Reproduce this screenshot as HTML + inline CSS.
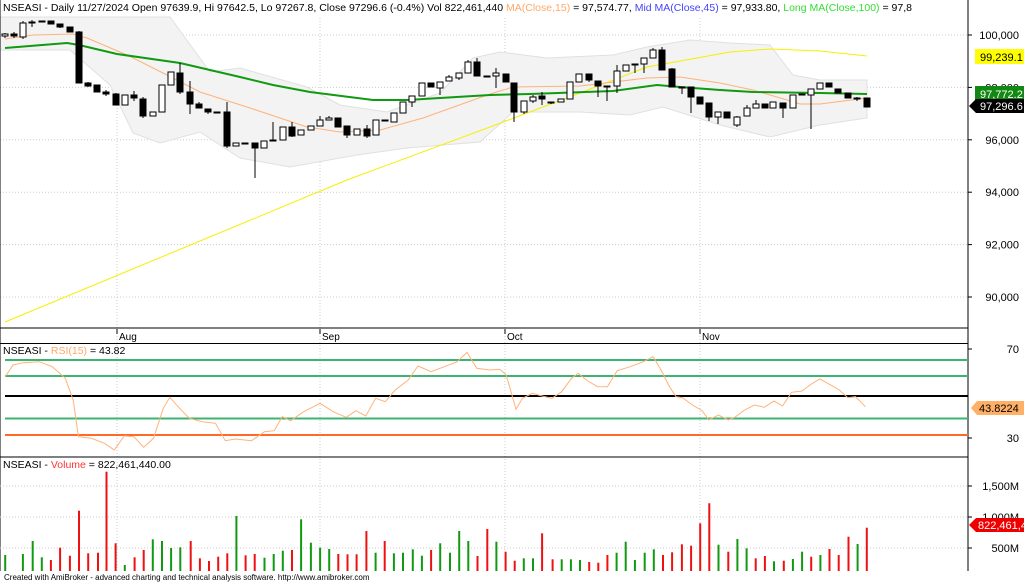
<!DOCTYPE html>
<html><head><meta charset="utf-8"><style>
body{margin:0;background:#fff;width:1024px;height:583px;overflow:hidden;font-family:"Liberation Sans",sans-serif}
svg text{font-family:"Liberation Sans",sans-serif}
</style></head><body>
<svg id="s" width="1024" height="583" xmlns="http://www.w3.org/2000/svg"></svg>
<script>
const S=document.getElementById('s');let h='';
const add=t=>h+=t;
// grid
const py=p=>35+(100000-p)*0.0262;
[100000,98000,96000,94000,92000,90000].forEach(p=>{const y=py(p);add(`<line x1="0" x2="968" y1="${y}" y2="${y}" stroke="#ccc" stroke-dasharray="1,2"/>`);add(`<line x1="968" x2="972" y1="${y}" y2="${y}" stroke="#000"/>`);add(`<text x="1019" y="${y+4}" font-size="11" text-anchor="end">${p.toLocaleString('en-US')}</text>`)});
[117,320,505,700].forEach(x=>{add(`<line x1="${x}" x2="${x}" y1="18" y2="571" stroke="#ccc" stroke-dasharray="1,2"/>`)});
// bollinger
const up=[[0,17],[170,17],[210,72],[240,68],[307,87],[340,105],[387,112],[440,93],[473,58],[500,52],[547,58],[613,55],[647,47],[690,40],[730,43],[770,45],[793,75],[820,80],[867,80]];
const lo=[[0,50],[70,50],[110,85],[133,133],[160,143],[200,132],[240,158],[290,167],[357,155],[407,148],[480,142],[513,112],[580,112],[630,115],[663,107],[720,125],[770,137],[820,125],[867,118]];
add(`<polygon fill="#f3f3f3" stroke="#e0e0e0" points="${up.map(p=>p.join(',')).join(' ')} ${lo.slice().reverse().map(p=>p.join(',')).join(' ')}"/>`);
const pl=(pts,c,w)=>add(`<polyline fill="none" stroke="${c}" stroke-width="${w}" points="${pts.map(p=>p.join(',')).join(' ')}"/>`);
pl([[5,322],[347,180],[490,127],[580,93],[647,67],[730,52],[770,49],[820,51],[867,56]],'#f5f000',1);
pl([[5,39],[33,35],[73,34],[87,38],[127,55],[167,75],[200,92],[250,108],[307,127],[340,132],[380,130],[423,118],[490,94],[513,87],[580,86],[647,78],[680,77],[720,83],[753,90],[787,100],[800,104],[820,104],[867,98]],'#ffb27a',1);
pl([[5,48],[67,43],[79,45],[117,54],[180,63],[240,77],[273,85],[310,92],[373,100],[407,100],[440,98],[490,95],[530,94],[613,91],[657,85],[680,87],[720,90],[753,92],[820,93],[867,94]],'#119911',2);
// candles: [x, top, bottom, wickTop, wickBot, black]
const C=[[5,34,36,33,38,0],[14,34,36,32,38,1],[23,23,37,21,39,0],[32,22,22,20,27,1],[42,21,21,21,21,1],[51,21,24,21,24,1],[60,24,27,24,28,1],[70,27,32,27,32,1],[79,32,83,31,83,1],[88,83,86,82,87,1],[97,85,92,85,92,1],[106,92,94,90,96,1],[116,94,105,93,105,1],[125,95,105,95,105,0],[134,95,98,91,101,1],[143,99,116,97,118,1],[153,112,116,112,116,0],[162,85,112,85,112,0],[171,72,85,72,85,0],[180,73,92,63,94,1],[190,92,104,81,114,1],[199,104,108,102,108,1],[208,109,112,109,114,1],[217,112,112,112,112,1],[227,112,146,102,148,1],[236,143,146,143,146,0],[245,143,144,143,144,1],
[255,143,148,143,178,1],[264,141,148,141,148,0],[273,140,140,122,140,1],[283,127,140,127,140,0],[292,127,136,122,137,1],[301,130,135,130,135,0],[311,126,130,126,130,0],[320,120,126,116,126,0],[329,118,120,116,120,0],[338,118,127,118,127,1],[347,126,135,126,138,1],[357,129,135,129,135,0],[367,129,136,125,138,1],[376,120,135,120,135,0],[385,120,120,120,120,1],[394,113,122,113,122,0],[403,102,113,102,113,0],[412,96,102,96,107,0],[422,83,96,83,96,0],[431,83,87,83,87,1],[440,82,88,82,95,0],[449,77,81,75,81,0],[459,73,78,73,80,0],[468,62,73,60,73,0],[477,62,76,58,76,1],[487,76,76,76,76,1],
[496,73,76,68,88,0],[506,74,82,74,82,1],[514,83,112,83,122,1],[524,101,112,101,114,0],[533,97,101,95,103,0],[542,96,99,92,105,1],[551,102,102,102,104,1],[561,99,102,99,102,0],[570,82,99,82,99,0],[579,74,82,74,82,0],[589,74,80,74,82,1],[598,81,86,81,97,1],[607,86,86,86,101,1],[617,71,86,65,93,0],[626,65,71,65,71,0],[635,64,64,64,73,1],[644,58,64,58,73,0],[653,50,58,48,58,0],[662,50,70,47,70,1],[672,69,87,68,87,1],[682,87,87,87,94,1],[691,87,97,87,113,1],[700,97,104,97,104,1],[709,103,117,103,121,1],[718,112,117,112,124,0],[727,112,118,112,118,1],
[737,117,125,116,127,0],[747,108,116,105,116,0],[756,104,108,100,108,0],[765,104,108,104,108,1],[773,102,108,102,108,0],[783,103,108,103,118,1],[793,95,108,95,108,0],[802,94,94,94,94,1],[811,89,95,89,129,0],[820,83,89,83,89,0],[829,83,87,83,87,1],[838,89,93,89,93,1],[848,93,98,93,98,1],[857,98,98,97,101,1],[867,98,107,98,107,1]];
C.forEach(c=>{const[x,t,b,wt,wb,k]=c;add(`<line x1="${x}" x2="${x}" y1="${wt}" y2="${wb}" stroke="#000"/>`);add(`<rect x="${x-3}" y="${t}" width="6" height="${Math.max(b-t,1)}" fill="${k?'#000':'#fff'}" stroke="#000" stroke-width="1"/>`)});
// title
add(`<rect x="0" y="0" width="967" height="15" fill="#fff"/>`);
add(`<text x="3" y="11" font-size="10.5">NSEASI - Daily 11/27/2024 Open 97639.9, Hi 97642.5, Lo 97267.8, Close 97296.6 (-0.4%) Vol 822,461,440 <tspan fill="#ffa866">MA(Close,15)</tspan> = 97,574.77, <tspan fill="#4444ff">Mid MA(Close,45)</tspan> = 97,933.80, <tspan fill="#33dd33">Long MA(Close,100)</tspan> = 97,8</text>`);
// right labels main
add(`<rect x="975" y="49" width="49" height="15" fill="#ffff00"/><text x="980" y="61" font-size="11">99,239.1</text>`);
add(`<rect x="975" y="86" width="49" height="15" fill="#118811"/><text x="980" y="98" font-size="11" fill="#fff">97,772.2</text>`);
add(`<polygon points="969,106 976,99 1024,99 1024,113 976,113" fill="#000"/><text x="980" y="110" font-size="11" fill="#fff">97,296.6</text>`);
// panel borders
add(`<line x1="968" x2="968" y1="0" y2="571" stroke="#000"/>`);
add(`<line x1="0" x2="0" y1="0" y2="571" stroke="#000"/>`);
add(`<line x1="0" x2="968" y1="328" y2="328" stroke="#000"/><line x1="0" x2="968" y1="343.5" y2="343.5" stroke="#000"/><line x1="0" x2="968" y1="457" y2="457" stroke="#000"/>`);
[[117,'Aug'],[320,'Sep'],[505,'Oct'],[700,'Nov']].forEach(([x,t])=>{add(`<line x1="${x}" x2="${x}" y1="329" y2="334" stroke="#000"/><text x="${x+2}" y="340" font-size="10">${t}</text>`)});
// RSI
add(`<line x1="5" x2="968" y1="360" y2="360" stroke="#3cb371" stroke-width="2"/><line x1="5" x2="968" y1="376" y2="376" stroke="#3cb371" stroke-width="2"/><line x1="5" x2="968" y1="396" y2="396" stroke="#000" stroke-width="2"/><line x1="5" x2="968" y1="418.5" y2="418.5" stroke="#3cb371" stroke-width="2"/><line x1="5" x2="968" y1="435" y2="435" stroke="#ff6a2a" stroke-width="2"/>`);
const R=[[8,170],[20,135],[35,128],[60,125],[80,140],[100,175],[112,240],[120,350],[140,355],[160,370],[175,390],[190,348],[205,350],[220,382],[235,355],[250,265],[260,232],[275,265],[290,295],[310,305],[330,310],[345,362],[360,357],[385,362],[405,335],[420,332],[432,290],[445,302],[465,275],[490,250],[510,275],[530,292],[545,272],[560,288],[575,235],[590,245],[605,210],[625,180],[640,138],[660,155],[680,140],[700,125],[715,97],[730,145],[750,150],[765,148],[775,165],[790,268],[800,235],[815,220],[830,228],[845,235],[860,215],[875,175],[885,160],[900,183],[915,200],[930,200],[945,152],[965,140],[985,125],[1000,110],[1012,150],[1025,200],[1035,230],[1045,233],[1060,255],[1075,272],[1085,300],[1100,285],[1115,300],[1125,292],[1140,270],[1155,255],[1170,262],[1185,243],[1198,258],[1212,217],[1228,213],[1240,195],[1255,177],[1270,193],[1285,210],[1298,233],[1310,230],[1325,260]].map(p=>[(p[0]/1.531).toFixed(1),(p[1]/3+320).toFixed(1)]);
pl(R,'#ffb27a',1);
add(`<text x="3" y="354" font-size="10.5">NSEASI - <tspan fill="#ffa866">RSI(15)</tspan> = 43.82</text>`);
add(`<line x1="968" x2="972" y1="349" y2="349" stroke="#000"/><text x="1019" y="353" font-size="11" text-anchor="end">70</text>`);
add(`<line x1="968" x2="972" y1="438" y2="438" stroke="#000"/><text x="1019" y="442" font-size="11" text-anchor="end">30</text>`);
add(`<polygon points="971,408 977,401 1024,401 1024,415 977,415" fill="#ffb066"/><text x="979" y="412" font-size="11">43.8224</text>`);
// volume
const V=[[8,'g',705],[35,'g',702],[50,'g',663],[64,'g',712],[78,'r',720],[92,'r',683],[107,'r',707],[121,'r',572],[135,'r',700],[150,'r',698],[163,'r',455],[177,'r',670],[191,'g',735],[206,'r',712],[220,'r',690],[234,'g',658],[248,'g',663],[262,'g',684],[276,'g',682],[292,'r',663],[306,'r',715],[320,'r',723],[334,'r',710],[348,'r',700],[362,'g',588],[376,'r',706],[390,'r',702],[405,'g',713],[419,'g',702],[433,'g',692],[447,'r',690],[461,'g',598],[476,'g',668],[490,'g',683],[504,'g',687],[518,'r',702],[532,'r',703],[546,'r',703],[561,'r',633],[575,'g',698],[589,'r',663],[603,'g',700],[617,'g',698],[632,'g',688],[646,'g',707],[660,'r',690],[674,'g',670],[689,'g',698],[703,'g',633],[717,'g',663],[731,'r',708],[746,'r',627],[760,'g',665],[774,'r',695],[788,'r',722],[802,'g',715],[816,'g',715],[830,'r',640],[846,'r',718],[860,'g',718],[874,'g',718],[888,'g',720],[902,'r',726],[916,'r',728],[930,'r',705],[944,'g',698],[958,'g',665],[972,'g',720],[987,'g',698],[1001,'g',688],[1015,'r',705],[1029,'r',697],[1044,'r',673],[1058,'r',677],[1072,'r',610],[1086,'r',550],[1100,'g',674],[1115,'r',695],[1129,'g',657],[1143,'g',685],[1157,'r',715],[1171,'r',708],[1185,'g',724],[1200,'r',722],[1214,'g',717],[1228,'g',695],[1242,'r',710],[1256,'g',705],[1270,'r',687],[1284,'r',705],[1299,'r',650],[1313,'g',672],[1327,'r',623]];
[[486,'1,500M'],[517,'1,000M'],[548,'500M']].forEach(([y,t])=>{add(`<line x1="0" x2="968" y1="${y}" y2="${y}" stroke="#ccc" stroke-dasharray="1,2"/><line x1="968" x2="972" y1="${y}" y2="${y}" stroke="#000"/><text x="1019" y="${y+4}" font-size="11" text-anchor="end">${t}</text>`)});
V.forEach(([x,c,y])=>{const X=(x/1.531).toFixed(1);add(`<line x1="${X}" x2="${X}" y1="${(y/3+320).toFixed(1)}" y2="571" stroke="${c=='g'?'#119911':'#ee1111'}" stroke-width="2"/>`)});
add(`<text x="3" y="468" font-size="10.5">NSEASI - <tspan fill="#ff3333">Volume</tspan> = 822,461,440.00</text>`);
add(`<polygon points="969,525 976,518 1024,518 1024,532 976,532" fill="#ee0000"/><text x="978" y="529" font-size="11" fill="#fff">822,461,4</text>`);
add(`<text x="4" y="580" font-size="8">Created with AmiBroker - advanced charting and technical analysis software. http://www.amibroker.com</text>`);
S.innerHTML=h;
</script>
</body></html>
